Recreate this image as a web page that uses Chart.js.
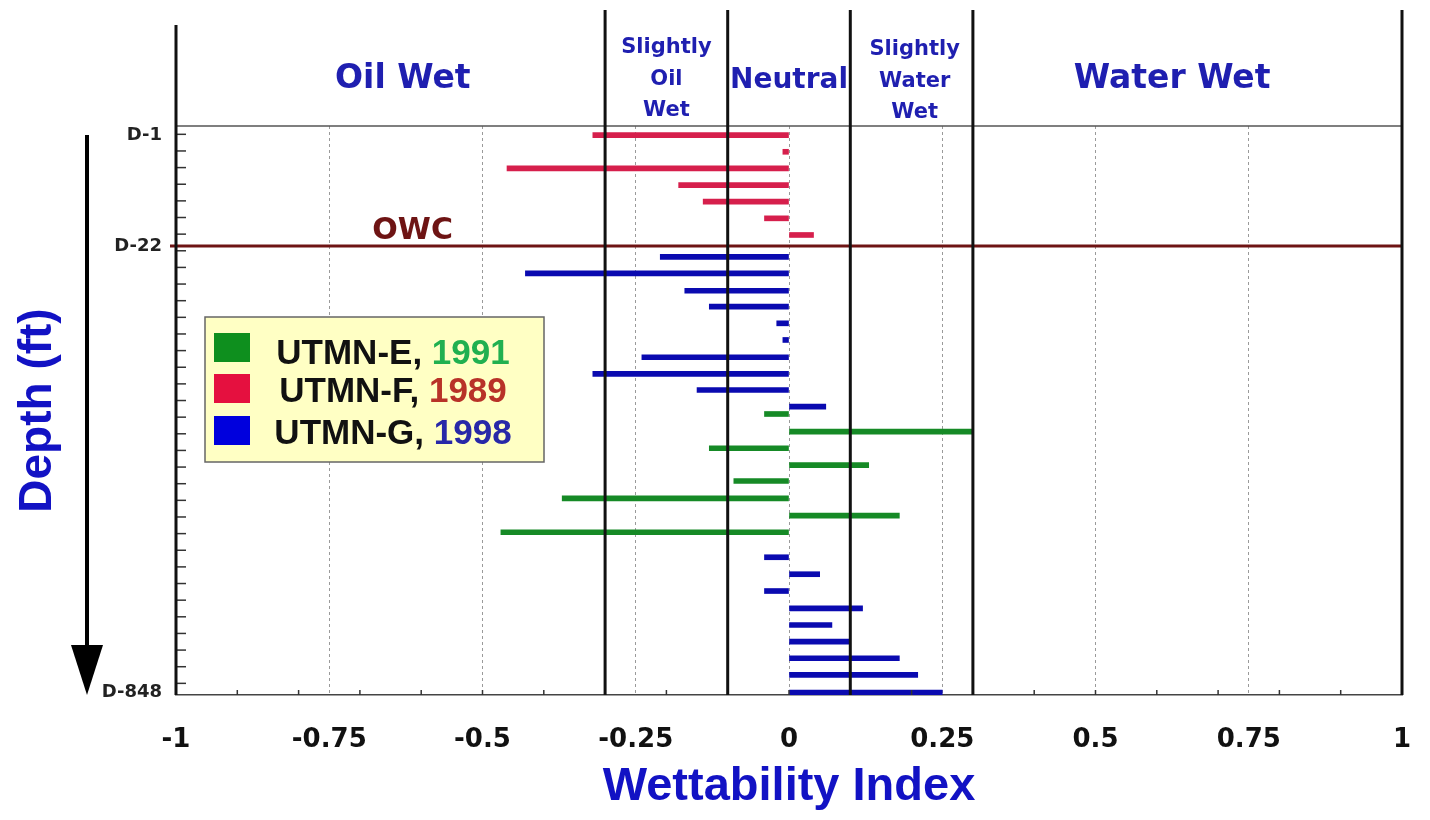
<!DOCTYPE html>
<html>
<head>
<meta charset="utf-8">
<script src="https://cdn.jsdelivr.net/npm/chart.js@4/dist/chart.umd.min.js"></script>
<style>
  html, body { margin: 0; padding: 0; background: #fff; }
  #wrap { width: 1430px; height: 820px; }
</style>
</head>
<body>
<div id="wrap"><canvas id="chart" width="1430" height="820"></canvas></div>
<script>
// depth is in log rows counted from the top of the section, index is wettability
const wellEDepth = [17.31, 18.37, 19.37, 20.38, 21.34, 22.38, 23.42, 24.42];
const wellEIndex = [-0.04, 0.30, -0.13, 0.13, -0.09, -0.37, 0.18, -0.47];

const wellFDepth = [0.55, 1.55, 2.55, 3.55, 4.55, 5.55, 6.55];
const wellFIndex = [-0.32, -0.01, -0.46, -0.18, -0.14, -0.04, 0.04];

const wellGDepth = [7.87, 8.86, 9.9, 10.86, 11.86, 12.86, 13.9, 14.9, 15.87, 16.87,
                    25.92, 26.94, 27.95, 28.99, 29.99, 30.99, 31.99, 32.99, 34.06];
const wellGIndex = [-0.21, -0.43, -0.17, -0.13, -0.02, -0.01, -0.24, -0.32, -0.15, 0.06,
                    -0.04, 0.05, -0.04, 0.12, 0.07, 0.10, 0.18, 0.21, 0.25];

const seriesNames = ["UTMN-E, ", "UTMN-F, ", "UTMN-G, "];
const seriesYears = ["1991", "1989", "1998"];

const depthTickValues = [0.55, 7.21, 34.06];
const depthTickLabels = ["D-1", "D-22", "D-848"];
const owcDepth = 7.21;

const indexTickLabels = ["-1", "-0.75", "-0.5", "-0.25", "0", "0.25", "0.5", "0.75", "1"];

const regionBounds = [-0.3, -0.1, 0.1, 0.3];
const regionCenters = [-0.63, -0.2, 0, 0.205, 0.625];
const regionLabels = [["Oil Wet"], ["Slightly", "Oil", "Wet"], ["Neutral"], ["Slightly", "Water", "Wet"], ["Water Wet"]];

const barColors = ["#168a26", "#d61f4c", "#0a0ab0"];
const swatchColors = ["#0e8f1e", "#e5103f", "#0000dd"];
const yearColors = ["#20b050", "#b83228", "#2828a8"];

function toPoints(depths, values) {
    return depths.map((d, i) => ({ x: values[i], y: d }));
}

const SANS = '"DejaVu Sans", sans-serif';
const ARIAL = '"Liberation Sans", Arial, sans-serif';

const decor = {
    id: 'decor',
    afterDatasetsDraw(chart) {
        const { ctx, chartArea: a, scales: { x, y } } = chart;
        const line = (x1, y1, x2, y2) => {
            ctx.beginPath(); ctx.moveTo(x1, y1); ctx.lineTo(x2, y2); ctx.stroke();
        };
        ctx.save();

        // frame line on top of the log
        ctx.strokeStyle = '#555'; ctx.lineWidth = 1.5;
        line(a.left, a.top, a.right, a.top);

        // small inner ticks
        ctx.strokeStyle = '#333'; ctx.lineWidth = 1.5;
        for (let d = 0.5; d < 34; d += 1) {
            const py = y.getPixelForValue(d);
            line(a.left, py, a.left + 10, py);
        }
        for (let k = -9; k <= 9; k++) {
            const px = x.getPixelForValue(k / 10);
            line(px, a.bottom, px, a.bottom - 5);
        }

        // oil water contact
        const oy = y.getPixelForValue(owcDepth);
        ctx.strokeStyle = '#6e1414'; ctx.lineWidth = 3;
        line(a.left - 6, oy, a.right, oy);
        ctx.fillStyle = '#6e1414';
        ctx.font = 'bold 30px ' + SANS;
        ctx.textAlign = 'center'; ctx.textBaseline = 'middle';
        ctx.fillText('OWC', x.getPixelForValue(-0.614), oy - 15);

        // wettability class boundaries
        ctx.strokeStyle = '#111'; ctx.lineWidth = 3;
        regionBounds.concat([1]).forEach(v => {
            const px = x.getPixelForValue(v);
            line(px, 10, px, a.bottom);
        });
        line(a.left, 25, a.left, a.bottom);

        // class labels
        ctx.fillStyle = '#1f1fb0';
        regionLabels.forEach((lines, i) => {
            const cx = x.getPixelForValue(regionCenters[i]);
            if (lines.length === 3) {
                ctx.font = 'bold 21px ' + SANS;
                const ys = i === 1 ? [48, 80, 111] : [50, 82, 113];
                lines.forEach((t, j) => ctx.fillText(t, cx, ys[j]));
            } else if (lines[0] === 'Neutral') {
                ctx.font = 'bold 28px ' + SANS;
                ctx.fillText(lines[0], cx, 81);
            } else {
                ctx.font = 'bold 33px ' + SANS;
                ctx.fillText(lines[0], cx, 79);
            }
        });

        // depth arrow
        ctx.strokeStyle = '#000'; ctx.fillStyle = '#000'; ctx.lineWidth = 4;
        line(87, 135, 87, 650);
        ctx.beginPath();
        ctx.moveTo(71, 645); ctx.lineTo(103, 645); ctx.lineTo(87, 695);
        ctx.closePath(); ctx.fill();

        // legend box
        ctx.fillStyle = '#ffffc4';
        ctx.fillRect(205, 317, 339, 145);
        ctx.strokeStyle = '#666'; ctx.lineWidth = 1.5;
        ctx.strokeRect(205, 317, 339, 145);
        const rowY = [347, 388, 430];
        const textY = [354, 392, 434];
        ctx.font = 'bold 35px ' + ARIAL;
        ctx.textAlign = 'left';
        seriesNames.forEach((name, i) => {
            ctx.fillStyle = swatchColors[i];
            ctx.fillRect(214, rowY[i] - 14, 36, 29);
            const w1 = ctx.measureText(name).width;
            const w2 = ctx.measureText(seriesYears[i]).width;
            const sx = 393 - (w1 + w2) / 2;
            ctx.fillStyle = '#111';
            ctx.fillText(name, sx, textY[i]);
            ctx.fillStyle = yearColors[i];
            ctx.fillText(seriesYears[i], sx + w1, textY[i]);
        });

        ctx.restore();
    }
};

new Chart(document.getElementById('chart'), {
    type: 'bar',
    data: {
        datasets: [
            { label: 'UTMN-E, 1991', data: toPoints(wellEDepth, wellEIndex), backgroundColor: barColors[0] },
            { label: 'UTMN-F, 1989', data: toPoints(wellFDepth, wellFIndex), backgroundColor: barColors[1] },
            { label: 'UTMN-G, 1998', data: toPoints(wellGDepth, wellGIndex), backgroundColor: barColors[2] }
        ]
    },
    options: {
        indexAxis: 'y',
        responsive: false,
        animation: false,
        barThickness: 5,
        grouped: false,
        layout: { padding: { top: 126, right: 28, left: 0, bottom: 0 } },
        plugins: { legend: { display: false }, tooltip: { enabled: false } },
        scales: {
            x: {
                type: 'linear',
                min: -1, max: 1,
                offset: false,
                afterFit: s => { s.height = 125; s.paddingLeft = 0; s.paddingRight = 0; },
                ticks: {
                    stepSize: 0.25,
                    padding: 30,
                    color: '#111',
                    font: { family: SANS, size: 26, weight: 'bold' },
                    callback: (v, i) => indexTickLabels[i]
                },
                grid: {
                    drawTicks: false,
                    color: ctx => (Math.abs(ctx.tick.value) === 1 ? 'rgba(0,0,0,0)' : '#9a9a9a'),
                    lineWidth: 1
                },
                border: { display: true, color: '#444', width: 1.5, dash: [3, 3] },
                title: {
                    display: true,
                    text: 'Wettability Index',
                    color: '#1212c4',
                    font: { family: ARIAL, size: 47, weight: 'bold', lineHeight: 1 },
                    padding: { top: 0, bottom: 9 }
                }
            },
            y: {
                type: 'linear',
                reverse: true,
                offset: false,
                min: 0, max: 34.2,
                afterFit: s => { s.width = 176; },
                afterBuildTicks: s => { s.ticks = depthTickValues.map(v => ({ value: v })); },
                ticks: {
                    padding: 6,
                    color: '#222',
                    font: { family: SANS, size: 18, weight: 'bold' },
                    callback: v => depthTickLabels[depthTickValues.indexOf(v)]
                },
                grid: { display: false },
                border: { display: false },
                title: {
                    display: true,
                    text: 'Depth (ft)',
                    color: '#1212c4',
                    font: { family: ARIAL, size: 46, weight: 'bold', lineHeight: 1 },
                    padding: { top: 15, bottom: 0 }
                }
            }
        }
    },
    plugins: [decor]
});
</script>
</body>
</html>
